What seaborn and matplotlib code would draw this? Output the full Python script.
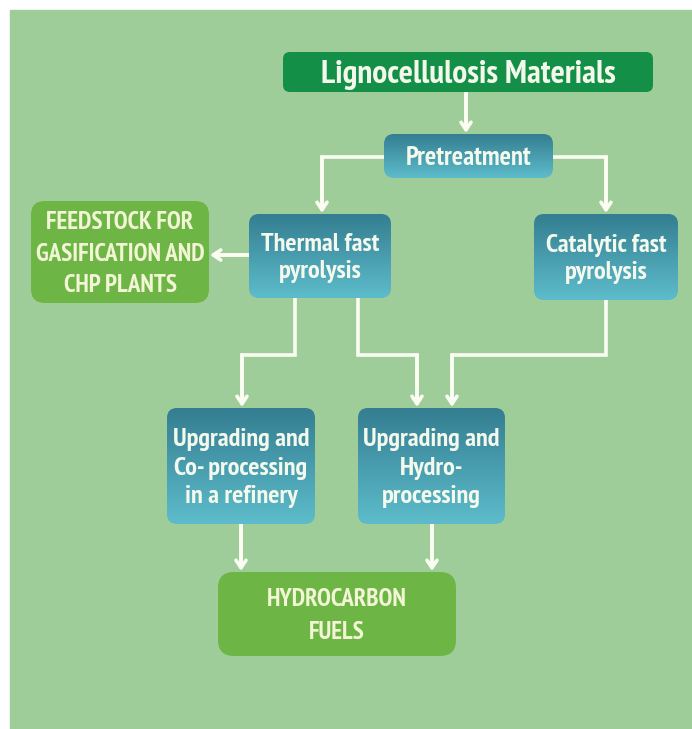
import numpy as np
import matplotlib.pyplot as plt
import seaborn as sns
from matplotlib.patches import FancyBboxPatch
from matplotlib.colors import LinearSegmentedColormap

sns.set_theme(style="white")
plt.rcParams['font.family'] = ['PT Sans Narrow', 'DejaVu Sans']

# Node labels
top_label = "Lignocellulosis Materials"
pre_label = "Pretreatment"
thermal_label = "Thermal fast\npyrolysis"
catalytic_label = "Catalytic fast\npyrolysis"
feed_label = "FEEDSTOCK FOR\nGASIFICATION AND\nCHP PLANTS"
coproc_label = "Upgrading and\nCo- processing\nin a refinery"
hydro_label = "Upgrading and\nHydro-\nprocessing"
fuel_label = "HYDROCARBON\nFUELS"

W, H = 692, 729
PANEL = "#9ecd99"
DARK_GREEN = "#148f48"
LEAF = "#6db544"
TEAL_TOP = "#347e91"
TEAL_BOT = "#5dbccb"
LINE = "#fbfdf3"

fig = plt.figure(figsize=(W / 100, H / 100), dpi=100)
ax = fig.add_axes([0, 0, 1, 1])
ax.set_xlim(0, W)
ax.set_ylim(H, 0)
ax.axis('off')
fig.patch.set_facecolor("white")

ax.add_patch(plt.Rectangle((10, 10), W - 10, H - 10, color=PANEL, zorder=0))

teal = LinearSegmentedColormap.from_list("teal", [TEAL_TOP, TEAL_BOT])


def box(x0, y0, x1, y1, label, color=None, fs=19, tcolor="#f4f9ee", r=10, ls=1.2, dy=2):
    patch = FancyBboxPatch((x0 + r, y0 + r), x1 - x0 - 2 * r, y1 - y0 - 2 * r,
                           boxstyle=f"round,pad={r}", linewidth=0,
                           facecolor=color if color else "none", zorder=2)
    ax.add_patch(patch)
    if color is None:
        grad = np.linspace(0, 1, 100).reshape(-1, 1)
        im = ax.imshow(grad, cmap=teal, aspect='auto',
                       extent=(x0, x1, y1, y0), zorder=2)
        im.set_clip_path(patch)
    ax.text((x0 + x1) / 2, (y0 + y1) / 2 + dy, label, ha='center', va='center',
            fontsize=fs, fontweight='bold', color=tcolor, linespacing=ls,
            zorder=3)


def arrow(points):
    pts = list(points)
    (xa, ya), (xb, yb) = pts[-2], pts[-1]
    d = np.hypot(xb - xa, yb - ya)
    end = (xb - 5 * (xb - xa) / d, yb - 5 * (yb - ya) / d)
    xs, ys = zip(*(pts[:-1] + [end]))
    ax.plot(xs, ys, color=LINE, lw=2.6, solid_capstyle='butt',
            solid_joinstyle='miter', zorder=1)
    ax.annotate("", xy=pts[-1], xytext=pts[-2],
                arrowprops=dict(arrowstyle="->,head_length=0.45,head_width=0.3",
                                color=LINE, lw=2.6, shrinkA=0, shrinkB=0), zorder=1)


box(283, 52, 653, 92, top_label, color=DARK_GREEN, fs=24, tcolor="#f2f8ea", r=7, dy=3)
box(384, 134, 553, 178, pre_label, fs=19.3)
box(249, 214, 391, 298, thermal_label, fs=19, ls=1.2)
box(534, 214, 678, 300, catalytic_label, fs=19, ls=1.2)
box(31, 201, 209, 303, feed_label, color=LEAF, fs=18, tcolor="#f3f6d6", r=14, ls=1.48)
box(167, 408, 315, 524, coproc_label, fs=19, ls=1.32)
box(358, 408, 505, 524, hydro_label, fs=19, ls=1.32)
box(218, 572, 456, 656, fuel_label, color=LEAF, fs=18, tcolor="#f3f6d6", r=16, ls=1.55)

# Connectors
arrow([(466, 92), (466, 133)])
arrow([(384, 157), (322, 157), (322, 213)])
arrow([(553, 157), (606, 157), (606, 213)])
arrow([(249, 255), (210, 255)])
arrow([(295, 298), (295, 355), (242, 355), (242, 407)])
arrow([(358, 298), (358, 355), (417, 355), (417, 407)])
arrow([(606, 300), (606, 355), (452, 355), (452, 407)])
arrow([(241, 524), (241, 571)])
arrow([(432, 524), (432, 571)])

fig.savefig("out.png", dpi=100, facecolor=fig.get_facecolor())
